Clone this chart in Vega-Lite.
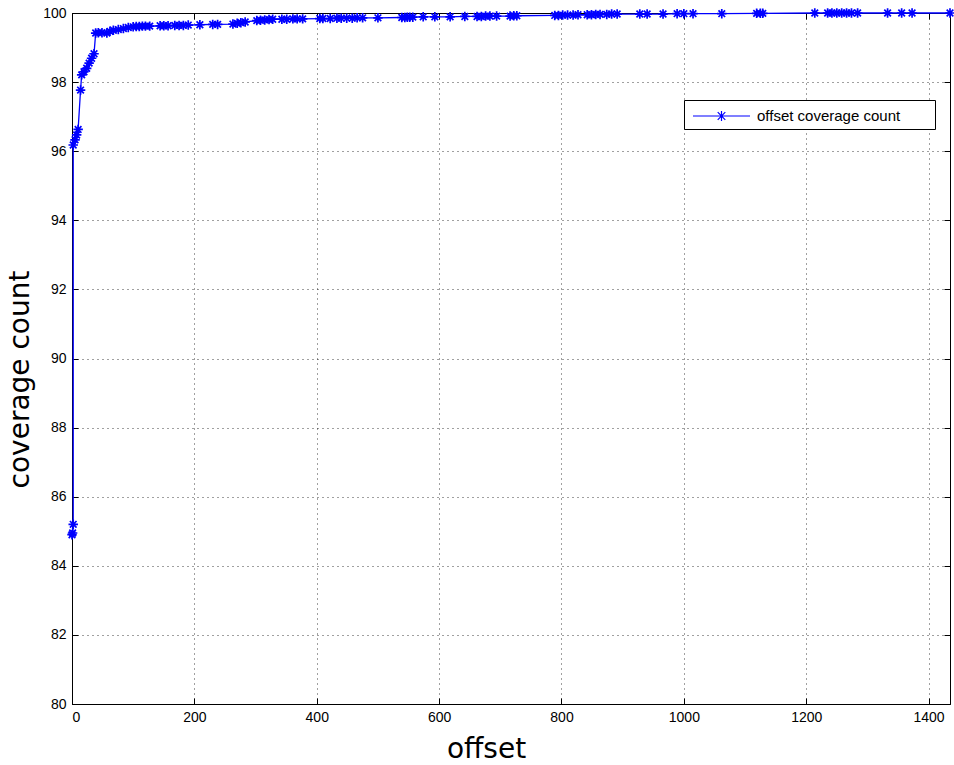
{
  "$schema": "https://vega.github.io/schema/vega-lite/v6.json",
  "width": 878,
  "height": 691,
  "autosize": {"type": "none"},
  "padding": {"left": 72, "top": 13, "right": 4, "bottom": 61},
  "background": "white",
  "config": {
    "font": "Liberation Sans",
    "view": {"stroke": "black", "strokeWidth": 1},
    "axis": {
      "domainColor": "black",
      "tickColor": "black",
      "labelColor": "black",
      "titleColor": "black",
      "labelFont": "Liberation Sans",
      "titleFont": "DejaVu Sans",
      "labelFontSize": 14,
      "titleFontSize": 28,
      "titleFontWeight": "normal",
      "gridColor": "black",
      "gridDash": [1, 4],
      "gridOpacity": 0.75,
      "gridWidth": 1
    }
  },
  "data": {
    "values": [
      {"offset": 0, "coverage": 84.9},
      {"offset": 1, "coverage": 84.95},
      {"offset": 2, "coverage": 85.2},
      {"offset": 2, "coverage": 96.18},
      {"offset": 5, "coverage": 96.33},
      {"offset": 7.6, "coverage": 96.47},
      {"offset": 10, "coverage": 96.63},
      {"offset": 14, "coverage": 97.77},
      {"offset": 15.8, "coverage": 98.21},
      {"offset": 19.6, "coverage": 98.3},
      {"offset": 24, "coverage": 98.4},
      {"offset": 28, "coverage": 98.55},
      {"offset": 32, "coverage": 98.69},
      {"offset": 36, "coverage": 98.82},
      {"offset": 38.7, "coverage": 99.42},
      {"offset": 43, "coverage": 99.43},
      {"offset": 49, "coverage": 99.43},
      {"offset": 57, "coverage": 99.42},
      {"offset": 62, "coverage": 99.47},
      {"offset": 67.6, "coverage": 99.5},
      {"offset": 75.7, "coverage": 99.52},
      {"offset": 84, "coverage": 99.55},
      {"offset": 92, "coverage": 99.58},
      {"offset": 100, "coverage": 99.6},
      {"offset": 105, "coverage": 99.61},
      {"offset": 110, "coverage": 99.61},
      {"offset": 115, "coverage": 99.62},
      {"offset": 120, "coverage": 99.62},
      {"offset": 127, "coverage": 99.62},
      {"offset": 144, "coverage": 99.63},
      {"offset": 150, "coverage": 99.63},
      {"offset": 157, "coverage": 99.63},
      {"offset": 168, "coverage": 99.64},
      {"offset": 175, "coverage": 99.64},
      {"offset": 182, "coverage": 99.64},
      {"offset": 190, "coverage": 99.65},
      {"offset": 209, "coverage": 99.66},
      {"offset": 230, "coverage": 99.67},
      {"offset": 238, "coverage": 99.67},
      {"offset": 263, "coverage": 99.68},
      {"offset": 270, "coverage": 99.7},
      {"offset": 276, "coverage": 99.72},
      {"offset": 283, "coverage": 99.74},
      {"offset": 302, "coverage": 99.78},
      {"offset": 308, "coverage": 99.79},
      {"offset": 315, "coverage": 99.8},
      {"offset": 322, "coverage": 99.81},
      {"offset": 328, "coverage": 99.82},
      {"offset": 343, "coverage": 99.82},
      {"offset": 351, "coverage": 99.82},
      {"offset": 361, "coverage": 99.83},
      {"offset": 368, "coverage": 99.83},
      {"offset": 377, "coverage": 99.83},
      {"offset": 405, "coverage": 99.84},
      {"offset": 410, "coverage": 99.84},
      {"offset": 422, "coverage": 99.84},
      {"offset": 433, "coverage": 99.85},
      {"offset": 440, "coverage": 99.85},
      {"offset": 449, "coverage": 99.85},
      {"offset": 458, "coverage": 99.85},
      {"offset": 466, "coverage": 99.86},
      {"offset": 475, "coverage": 99.86},
      {"offset": 500, "coverage": 99.86},
      {"offset": 539, "coverage": 99.87},
      {"offset": 544, "coverage": 99.87},
      {"offset": 548, "coverage": 99.88},
      {"offset": 552, "coverage": 99.88},
      {"offset": 557, "coverage": 99.88},
      {"offset": 574, "coverage": 99.89},
      {"offset": 593, "coverage": 99.89},
      {"offset": 618, "coverage": 99.89},
      {"offset": 642, "coverage": 99.9},
      {"offset": 662, "coverage": 99.9},
      {"offset": 669, "coverage": 99.9},
      {"offset": 676, "coverage": 99.91},
      {"offset": 683, "coverage": 99.91},
      {"offset": 694, "coverage": 99.91},
      {"offset": 716, "coverage": 99.91},
      {"offset": 722, "coverage": 99.92},
      {"offset": 727, "coverage": 99.92},
      {"offset": 789, "coverage": 99.93},
      {"offset": 795, "coverage": 99.93},
      {"offset": 802, "coverage": 99.94},
      {"offset": 810, "coverage": 99.94},
      {"offset": 819, "coverage": 99.94},
      {"offset": 827, "coverage": 99.95},
      {"offset": 842, "coverage": 99.95},
      {"offset": 849, "coverage": 99.95},
      {"offset": 856, "coverage": 99.96},
      {"offset": 863, "coverage": 99.96},
      {"offset": 874, "coverage": 99.96},
      {"offset": 882, "coverage": 99.97},
      {"offset": 891, "coverage": 99.97},
      {"offset": 928, "coverage": 99.97},
      {"offset": 940, "coverage": 99.97},
      {"offset": 966, "coverage": 99.97},
      {"offset": 989, "coverage": 99.98},
      {"offset": 1000, "coverage": 99.98},
      {"offset": 1015, "coverage": 99.98},
      {"offset": 1062, "coverage": 99.98},
      {"offset": 1119, "coverage": 99.99},
      {"offset": 1125, "coverage": 99.99},
      {"offset": 1129, "coverage": 99.99},
      {"offset": 1214, "coverage": 100},
      {"offset": 1235, "coverage": 100},
      {"offset": 1242, "coverage": 100},
      {"offset": 1250, "coverage": 100},
      {"offset": 1258, "coverage": 100},
      {"offset": 1266, "coverage": 100},
      {"offset": 1274, "coverage": 100},
      {"offset": 1284, "coverage": 100},
      {"offset": 1333, "coverage": 100},
      {"offset": 1356, "coverage": 100},
      {"offset": 1373, "coverage": 100},
      {"offset": 1435, "coverage": 100}
    ]
  },
  "layer": [
    {
      "mark": {"type": "line", "color": "#14149a", "strokeWidth": 1.3, "clip": false},
      "encoding": {
        "x": {
          "field": "offset",
          "type": "quantitative",
          "scale": {"domain": [0, 1435], "nice": false, "zero": false},
          "axis": {
            "orient": "bottom",
            "title": "offset",
            "format": "d",
            "values": [0, 200, 400, 600, 800, 1000, 1200, 1400],
            "tickSize": -6,
            "labelPadding": 12,
            "grid": true,
            "titleX": 414,
            "titleY": 53,
            "titleAlign": "center",
            "titleBaseline": "alphabetic"
          }
        },
        "y": {
          "field": "coverage",
          "type": "quantitative",
          "scale": {"domain": [80, 100], "nice": false, "zero": false},
          "axis": {
            "orient": "left",
            "title": "coverage count",
            "values": [80, 82, 84, 86, 88, 90, 92, 94, 96, 98, 100],
            "tickSize": -6,
            "labelPadding": 12,
            "grid": true,
            "titleX": -44,
            "titleY": 366,
            "titleAngle": -90,
            "titleAlign": "center",
            "titleBaseline": "alphabetic"
          }
        },
        "color": {
          "datum": "offset coverage count",
          "scale": {"range": ["#0000ff"]},
          "legend": {
            "title": " ",
            "titleOrient": "right",
            "titlePadding": 30,
            "titleFontSize": 15,
            "orient": "none",
            "legendX": 612,
            "legendY": 87,
            "symbolType": "M-2.85,0H2.85M0,-0.5V0.5M-0.38,-0.38L0.38,0.38M-0.38,0.38L0.38,-0.38",
            "symbolSize": 400,
            "symbolOffset": 21.5,
            "symbolStrokeWidth": 1.2,
            "symbolStrokeColor": "#0000ff",
            "symbolFillColor": "transparent",
            "labelFontSize": 15,
            "labelFont": "Liberation Sans",
            "labelColor": "black",
            "labelOffset": 24.5,
            "padding": 5,
            "fillColor": "white",
            "strokeColor": "black"
          }
        }
      }
    },
    {
      "mark": {
        "type": "point",
        "shape": "M-1,0H1M0,-1V1M-0.7,-0.7L0.7,0.7M-0.7,0.7L0.7,-0.7",
        "filled": false,
        "size": 90,
        "strokeWidth": 1.7,
        "opacity": 1,
        "clip": false
      },
      "encoding": {
        "x": {"field": "offset", "type": "quantitative", "axis": null},
        "y": {"field": "coverage", "type": "quantitative", "axis": null},
        "color": {"datum": "offset coverage count"}
      }
    },
    {
      "mark": {"type": "point", "opacity": 0},
      "encoding": {
        "x": {
          "field": "offset",
          "type": "quantitative",
          "axis": {
            "orient": "top",
            "title": null,
            "labels": false,
            "domain": false,
            "grid": false,
            "values": [0, 200, 400, 600, 800, 1000, 1200, 1400],
            "tickSize": -6
          }
        },
        "y": {
          "field": "coverage",
          "type": "quantitative",
          "axis": {
            "orient": "right",
            "title": null,
            "labels": false,
            "domain": false,
            "grid": false,
            "values": [80, 82, 84, 86, 88, 90, 92, 94, 96, 98, 100],
            "tickSize": -6
          }
        }
      }
    }
  ],
  "resolve": {"axis": {"x": "independent", "y": "independent"}}
}
